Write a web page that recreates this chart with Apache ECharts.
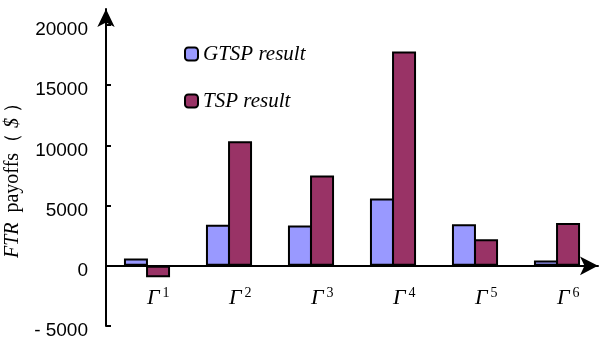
<!DOCTYPE html>
<html>
<head>
<meta charset="utf-8">
<script src="https://cdn.jsdelivr.net/npm/echarts@6/dist/echarts.min.js"></script>
<style>
html,body{margin:0;padding:0;background:#fff;}
#chart{width:608px;height:343px;}
</style>
</head>
<body>
<div id="chart"></div>
<script>
// Data
var categories = ['1', '2', '3', '4', '5', '6'];
var gtspValues = [600, 3400, 3350, 5600, 3450, 450];
var tspValues = [-950, 10350, 7500, 17800, 2200, 3550];
var seriesNames = ['GTSP result', 'TSP result'];
var yTickValues = [-5000, 0, 5000, 10000, 15000, 20000];

var chart = echarts.init(document.getElementById('chart'), null, {renderer: 'canvas'});
var serif = '"Liberation Serif", "Times New Roman", serif';
var sans = '"Liberation Sans", Arial, sans-serif';

var option = {
  animation: false,
  backgroundColor: '#ffffff',
  legend: {
    orient: 'vertical',
    left: 179,
    top: 38,
    itemWidth: 13,
    itemHeight: 13,
    itemGap: 25,
    data: seriesNames,
    textStyle: {fontFamily: serif, fontStyle: 'italic', fontSize: 21, color: '#000', lineHeight: 22}
  },
  grid: [
    {left: 106, right: 10, top: 25, bottom: 17, containLabel: false, outerBoundsMode: 'none'},
    {left: 106, right: 10, top: 9, bottom: 17, containLabel: false, outerBoundsMode: 'none'}
  ],
  xAxis: [
    {
      type: 'category',
      gridIndex: 0,
      position: 'bottom',
      data: categories,
      axisLine: {show: true, onZero: true, symbol: ['none', 'arrow'], symbolSize: [14, 18],
                 lineStyle: {color: '#000', width: 2}},
      axisTick: {show: false},
      axisLabel: {show: false},
      splitLine: {show: false}
    },
    {type: 'value', gridIndex: 1, show: false, min: 0, max: 1},
    {
      type: 'category',
      gridIndex: 0,
      position: 'bottom',
      data: categories,
      axisLine: {show: false, onZero: false},
      axisTick: {show: false},
      splitLine: {show: false},
      axisLabel: {
        margin: -40,
        align: 'left',
        formatter: function (v) { return '{g|\u0393}{s|' + v + '}'; },
        rich: {
          g: {fontFamily: serif, fontStyle: 'italic', fontSize: 22, color: '#000', lineHeight: 24},
          s: {fontFamily: serif, fontSize: 14, color: '#000', lineHeight: 14, verticalAlign: 'top', padding: [0,0,0,3]}
        }
      }
    }
  ],
  yAxis: [
    {
      type: 'value',
      gridIndex: 0,
      min: yTickValues[0],
      max: yTickValues[yTickValues.length - 1],
      interval: 5000,
      axisLine: {show: false},
      axisTick: {show: true, inside: true, length: 5, lineStyle: {color: '#000', width: 2}},
      axisLabel: {
        margin: 18,
        fontFamily: sans,
        fontSize: 19,
        color: '#000',
        verticalAlign: 'top',
        lineHeight: 10,
        formatter: function (v) { return v < 0 ? '- ' + Math.abs(v) : String(v); }
      },
      splitLine: {show: false},
      name: '{i|FTR}{r|  payoffs\uFF08 }{i|$}{r| \uFF09}',
      nameLocation: 'middle',
      nameGap: 76,
      nameRotate: 90,
      nameTextStyle: {
        rich: {
          i: {fontFamily: serif, fontStyle: 'italic', fontSize: 20, color: '#000'},
          r: {fontFamily: serif, fontSize: 20, color: '#000'}
        }
      }
    },
    {
      type: 'value',
      gridIndex: 1,
      min: 0,
      max: 1,
      axisLine: {show: true, symbol: ['none', 'arrow'], symbolSize: [13, 18], lineStyle: {color: '#000', width: 2}},
      axisTick: {show: false},
      axisLabel: {show: false},
      splitLine: {show: false}
    }
  ],
  series: [
    {
      name: seriesNames[0],
      type: 'bar',
      xAxisIndex: 0,
      yAxisIndex: 0,
      data: gtspValues,
      barWidth: 24,
      barGap: '-8%',
      itemStyle: {color: '#9999FF', borderColor: '#000', borderWidth: 2}
    },
    {
      name: seriesNames[1],
      type: 'bar',
      xAxisIndex: 0,
      yAxisIndex: 0,
      data: tspValues,
      barWidth: 24,
      barGap: '-8%',
      itemStyle: {color: '#993366', borderColor: '#000', borderWidth: 2}
    }
  ]
};
chart.setOption(option);
</script>
</body>
</html>
